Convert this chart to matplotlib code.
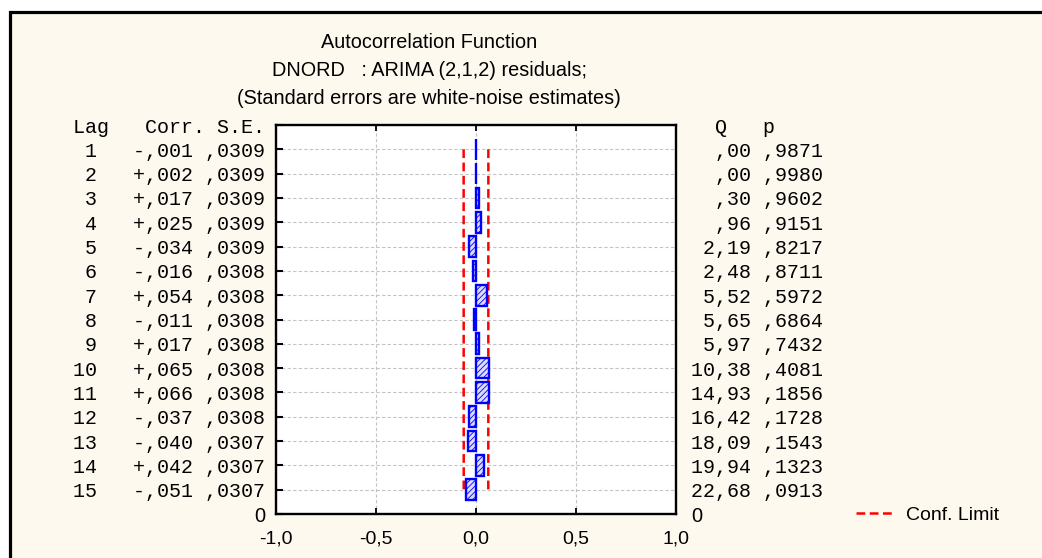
import matplotlib
matplotlib.use("Agg")
import matplotlib.pyplot as plt
from matplotlib.patches import Rectangle

# ACF of ARIMA(2,1,2) residuals
lags = list(range(1, 16))
corr = [-0.001, 0.002, 0.017, 0.025, -0.034, -0.016, 0.054, -0.011,
        0.017, 0.065, 0.066, -0.037, -0.040, 0.042, -0.051]
std_err = [0.0309, 0.0309, 0.0309, 0.0309, 0.0309, 0.0308, 0.0308, 0.0308,
           0.0308, 0.0308, 0.0308, 0.0308, 0.0307, 0.0307, 0.0307]
box_q = [0.00, 0.00, 0.30, 0.96, 2.19, 2.48, 5.52, 5.65,
         5.97, 10.38, 14.93, 16.42, 18.09, 19.94, 22.68]
p_val = [0.9871, 0.9980, 0.9602, 0.9151, 0.8217, 0.8711, 0.5972, 0.6864,
         0.7432, 0.4081, 0.1856, 0.1728, 0.1543, 0.1323, 0.0913]
x_ticks = [-1.0, -0.5, 0.0, 0.5, 1.0]

title_lines = [
    "Autocorrelation Function",
    "DNORD   : ARIMA (2,1,2) residuals;",
    "(Standard errors are white-noise estimates)",
]

W, H = 1042, 558
MONO = "Liberation Mono"
SANS = "Liberation Sans"
BG = "#fdf9ee"
BLUE = "#0000ff"
RED = "#ff0000"


def comma_num(v, nd, sign=False):
    # 0.017 -> ",017", 22.68 -> "22,68"
    s = "{0:.{1}f}".format(abs(v), nd)
    if s.startswith("0."):
        s = s[1:]
    s = s.replace(".", ",")
    if sign:
        s = ("-" if v < 0 else "+") + s
    return s


plt.rcParams["hatch.linewidth"] = 0.6

fig = plt.figure(figsize=(W / 100, H / 100), dpi=100, facecolor="white")

# cream panel with heavy black frame (runs off the right and bottom edges)
fig.add_artist(Rectangle((9.5 / W, -0.1), 1.2, 1.1 - 12.5 / H,
                         transform=fig.transFigure, facecolor=BG,
                         edgecolor="black", linewidth=2.3, zorder=0))

ax = fig.add_axes([276 / W, 1 - 514 / H, 400 / W, 389 / H])
ax.set_facecolor("white")
ax.set_xlim(-1, 1)
ax.set_ylim(16, 0)
ax.set_axisbelow(True)

# confidence limits: +/- 2 standard errors
conf_hi = [2 * s for s in std_err]
conf_lo = [-2 * s for s in std_err]
conf_line, = ax.plot(conf_hi, lags, color=RED, linewidth=1.8,
                     dashes=(3.5, 1.8), zorder=2)
ax.plot(conf_lo, lags, color=RED, linewidth=1.8, dashes=(3.5, 1.8), zorder=2)

ax.barh(lags, corr, height=0.85, left=0, facecolor="#dcdcff",
        edgecolor=BLUE, hatch="//////", linewidth=1.7, zorder=3)

ax.grid(True, color="#c4c4c4", linestyle=(0, (3, 2)), linewidth=0.8)

for sp in ax.spines.values():
    sp.set_linewidth(1.7)

ax.set_xticks(x_ticks)
ax.set_xticklabels(["{0:.1f}".format(v).replace(".", ",") for v in x_ticks],
                   fontfamily=SANS, fontsize=14)
ax.tick_params(axis="x", direction="in", top=True, length=4, width=1.3,
               pad=12)

# left table: lag, correlation and standard error as y tick labels
y_pos = [0] + lags + [16]
left_labels = ["Lag   Corr. S.E."]
for lag, c, s in zip(lags, corr, std_err):
    left_labels.append("{0:>2}   {1} {2}".format(lag, comma_num(c, 3, True),
                                                comma_num(s, 4)))
left_labels.append("0")
ax.set_yticks(y_pos)
ax.set_yticklabels(left_labels, fontfamily=MONO, fontsize=14.4)
ax.get_yticklabels()[-1].set_fontfamily(SANS)
ax.tick_params(axis="y", direction="in", right=True, length=5, width=1.5,
               pad=8)

# right table: Box-Ljung Q and p
ax_r = ax.twinx()
ax_r.set_ylim(16, 0)
ax_r.set_yticks(y_pos)
right_labels = ["  Q   p"]
for q, p in zip(box_q, p_val):
    right_labels.append("{0:>5} {1}".format(comma_num(q, 2), comma_num(p, 4)))
right_labels.append("0")
ax_r.set_yticklabels(right_labels, fontfamily=MONO, fontsize=14.4)
ax_r.get_yticklabels()[-1].set_fontfamily(SANS)
ax_r.tick_params(axis="y", direction="in", length=0, pad=11)
for sp in ax_r.spines.values():
    sp.set_visible(False)

for i, line in enumerate(title_lines):
    fig.text(429 / W, 1 - (42 + 28 * i) / H, line, ha="center", va="center",
             fontfamily=SANS, fontsize=14.3)

fig.legend([conf_line], ["Conf. Limit"], loc="center left",
           bbox_to_anchor=(856 / W, 1 - 515 / H), frameon=False,
           borderpad=0, borderaxespad=0, handlelength=2.0,
           handletextpad=0.55, prop={"family": SANS, "size": 14})

fig.savefig("out.png", dpi=100, facecolor="white")
